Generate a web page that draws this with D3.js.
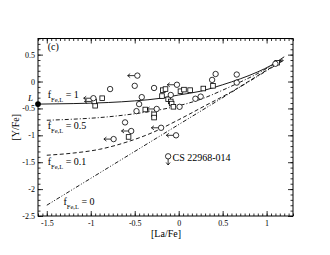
<!DOCTYPE html>
<html>
<head>
<meta charset="utf-8">
<script src="https://cdn.jsdelivr.net/npm/d3@7"></script>
<style>
  body { margin: 0; background: #fff; }
  svg { display: block; font-family: 'Liberation Serif', 'DejaVu Serif', serif; }
</style>
</head>
<body>
<div class="chart"></div>
<script>
const width = 330;
const height = 255;
const plotLeft = 38;
const plotRight = 293;
const plotTop = 38.5;
const plotBottom = 216;

// tick labels
const xMajorTicks = [-1.5, -1, -0.5, 0, 0.5, 1];
const yMajorTicks = [-2.5, -2, -1.5, -1, -0.5, 0, 0.5];

// model curves [La/Fe], [Y/Fe]
const curveF1 = [[-1.6, -0.42], [-1.2, -0.41], [-0.8, -0.39], [-0.5, -0.36], [-0.2, -0.31], [0, -0.25], [0.25, -0.18], [0.5, -0.06], [0.7, 0.05], [0.9, 0.18], [1.05, 0.3], [1.2, 0.46]];
const curveF05 = [[-1.5, -0.72], [-1.2, -0.7], [-0.9, -0.67], [-0.6, -0.62], [-0.3, -0.55], [0, -0.45], [0.25, -0.33], [0.5, -0.16], [0.7, -0.01], [0.9, 0.15], [1.05, 0.29], [1.2, 0.43]];
const curveF01 = [[-1.5, -1.37], [-1.2, -1.33], [-0.9, -1.26], [-0.6, -1.13], [-0.3, -0.95], [0, -0.71], [0.3, -0.45], [0.6, -0.19], [0.9, 0.11], [1.2, 0.41]];
const curveF0 = [[-1.5, -2.3], [1.2, 0.4]];

// the L component point
const pointL = [-1.6, -0.42];

// stars: open circles
const circles = [[-0.78, -0.14], [-0.5, -0.08], [-0.28, -0.12], [-0.42, -0.29], [-0.45, -0.42], [-0.48, -0.55], [-0.61, -0.76], [-0.09, -0.25], [0.19, -0.32], [0.25, -0.28], [0.01, -0.47], [0.38, 0.03], [0.42, 0.14], [0.66, 0.13], [0.66, -0.02], [1.1, 0.33]];
// circles with upper limit on [La/Fe]
const circlesLimit = [[-0.47, 0.11], [-0.97, -0.31], [-0.25, -0.51], [-0.02, -0.06], [-0.54, -0.92], [-0.74, -1.07], [-0.2, -0.86], [-0.03, -1.0]];
// open squares
const squares = [[-0.87, -0.31], [-0.95, -0.45], [-0.18, -0.16], [-0.38, -0.52], [-0.28, -0.61], [-0.28, -0.67], [-0.57, -1.03], [-0.15, -0.14], [0.02, -0.18], [0.06, -0.15], [0.13, -0.16], [0.28, -0.13], [0.39, -0.08], [-0.19, -0.27], [-0.12, -0.33], [-0.09, -0.37], [-0.08, -0.41], [-0.06, -0.47], [1.12, 0.35]];
const squaresLimit = [[-0.96, -0.37]];
// CS 22968-014, upper limit on [Y/Fe]
const csStar = [-0.12, -1.39];

const svg = d3
  .select('.chart')
  .append('svg')
  .attr('width', width)
  .attr('height', height);

const xScale = d3.scaleLinear().domain([-1.6, 1.3]).range([plotLeft, plotRight]);
const yScale = d3.scaleLinear().domain([-2.5, 0.8]).range([plotBottom, plotTop]);

const xMinor = d3.range(-32, 27).map((i) => i * 0.05);
const yMinor = d3.range(-25, 9).map((i) => i * 0.1);

// axes, ticks pointing inward
function addAxis(axis, transform) {
  const g = svg
    .append('g')
    .attr('transform', transform)
    .call(axis)
    .attr('font-size', 8)
    .attr('font-family', null);
  g.select('.domain').remove();
  g.selectAll('line').attr('stroke-width', 0.8);
  return g;
}

const fmt = (d) => String(d);
const noLabel = () => '';

addAxis(d3.axisBottom(xScale).tickValues(xMinor).tickSize(-2.5).tickFormat(noLabel), `translate(0,${plotBottom})`);
addAxis(d3.axisBottom(xScale).tickValues(xMajorTicks).tickSize(-5).tickPadding(4).tickFormat(fmt), `translate(0,${plotBottom})`);
addAxis(d3.axisTop(xScale).tickValues(xMinor).tickSize(-2.5).tickFormat(noLabel), `translate(0,${plotTop})`);
addAxis(d3.axisTop(xScale).tickValues(xMajorTicks).tickSize(-5).tickFormat(noLabel), `translate(0,${plotTop})`);
addAxis(d3.axisLeft(yScale).tickValues(yMinor).tickSize(-2.5).tickFormat(noLabel), `translate(${plotLeft},0)`);
addAxis(d3.axisLeft(yScale).tickValues(yMajorTicks).tickSize(-5).tickPadding(3).tickFormat(fmt), `translate(${plotLeft},0)`);
addAxis(d3.axisRight(yScale).tickValues(yMinor).tickSize(-2.5).tickFormat(noLabel), `translate(${plotRight},0)`);
addAxis(d3.axisRight(yScale).tickValues(yMajorTicks).tickSize(-5).tickFormat(noLabel), `translate(${plotRight},0)`);

// frame
svg
  .append('rect')
  .attr('x', plotLeft)
  .attr('y', plotTop)
  .attr('width', plotRight - plotLeft)
  .attr('height', plotBottom - plotTop)
  .attr('fill', 'none')
  .attr('stroke', '#000')
  .attr('stroke-width', 1);

// axis titles
svg
  .append('text')
  .text('[La/Fe]')
  .attr('text-anchor', 'middle')
  .attr('x', 166)
  .attr('y', 237)
  .attr('font-size', 10);

svg
  .append('text')
  .text('[Y/Fe]')
  .attr('text-anchor', 'middle')
  .attr('transform', `translate(19,${(plotTop + plotBottom) / 2}) rotate(-90)`)
  .attr('font-size', 10);

// curves
const line = d3
  .line()
  .x((d) => xScale(d[0]))
  .y((d) => yScale(d[1]))
  .curve(d3.curveMonotoneX);

const curves = [
  { data: curveF1, dash: null },
  { data: curveF05, dash: '4,2,1,2' },
  { data: curveF01, dash: '4,2.5' },
  { data: curveF0, dash: '4,1.8,1,1.8,1,1.8' },
];

svg
  .append('g')
  .selectAll('path')
  .data(curves)
  .enter()
  .append('path')
  .attr('d', (d) => line(d.data))
  .attr('fill', 'none')
  .attr('stroke', '#000')
  .attr('stroke-width', 0.9)
  .attr('stroke-dasharray', (d) => d.dash);

// markers
const r = 2.7;
const sq = 4.6;
const marks = svg.append('g').attr('fill', '#fff').attr('stroke', '#000').attr('stroke-width', 0.8);

marks
  .selectAll('rect')
  .data(squares.concat(squaresLimit))
  .enter()
  .append('rect')
  .attr('x', (d) => xScale(d[0]) - sq / 2)
  .attr('y', (d) => yScale(d[1]) - sq / 2)
  .attr('width', sq)
  .attr('height', sq);

marks
  .selectAll('circle')
  .data(circles.concat(circlesLimit, [csStar]))
  .enter()
  .append('circle')
  .attr('cx', (d) => xScale(d[0]))
  .attr('cy', (d) => yScale(d[1]))
  .attr('r', r);

// left arrows for upper limits on [La/Fe]
const arrows = svg.append('g').attr('fill', 'none').attr('stroke', '#000').attr('stroke-width', 0.8);
arrows
  .selectAll('path')
  .data(circlesLimit.concat(squaresLimit))
  .enter()
  .append('path')
  .attr('d', (d) => {
    const x0 = xScale(d[0]) - r;
    const y0 = yScale(d[1]);
    return `M${x0},${y0}H${x0 - 7}M${x0 - 4.5},${y0 - 2}L${x0 - 7},${y0}L${x0 - 4.5},${y0 + 2}`;
  });

// down arrow for CS 22968-014
{
  const x0 = xScale(csStar[0]);
  const y0 = yScale(csStar[1]) + r;
  arrows
    .append('path')
    .attr('d', `M${x0},${y0}V${y0 + 6}M${x0 - 2},${y0 + 3.5}L${x0},${y0 + 6}L${x0 + 2},${y0 + 3.5}`);
}

// L point
svg
  .append('circle')
  .attr('cx', xScale(pointL[0]))
  .attr('cy', yScale(pointL[1]))
  .attr('r', 2.9)
  .attr('fill', '#000');

svg
  .append('text')
  .text('L')
  .attr('font-style', 'italic')
  .attr('font-size', 9)
  .attr('x', xScale(pointL[0]) - 10)
  .attr('y', yScale(pointL[1]) - 3);

// annotations
svg
  .append('text')
  .text('(c)')
  .attr('font-size', 10)
  .attr('x', xScale(-1.49))
  .attr('y', yScale(0.59));

const fLabels = [
  { value: '1', x: -1.49, y: -0.31 },
  { value: '0.5', x: -1.49, y: -0.89 },
  { value: '0.1', x: -1.49, y: -1.56 },
  { value: '0', x: -1.31, y: -2.3 },
];

fLabels.forEach((d) => {
  const t = svg
    .append('text')
    .attr('font-size', 10)
    .attr('x', xScale(d.x))
    .attr('y', yScale(d.y));
  t.append('tspan').text('f');
  t.append('tspan').text('Fe,L').attr('font-size', 6.5).attr('dy', 3.5);
  t.append('tspan').text(` = ${d.value}`).attr('dy', -3.5);
});

svg
  .append('text')
  .text('CS 22968-014')
  .attr('font-size', 10)
  .attr('x', xScale(-0.07))
  .attr('y', yScale(-1.47));
</script>
</body>
</html>
